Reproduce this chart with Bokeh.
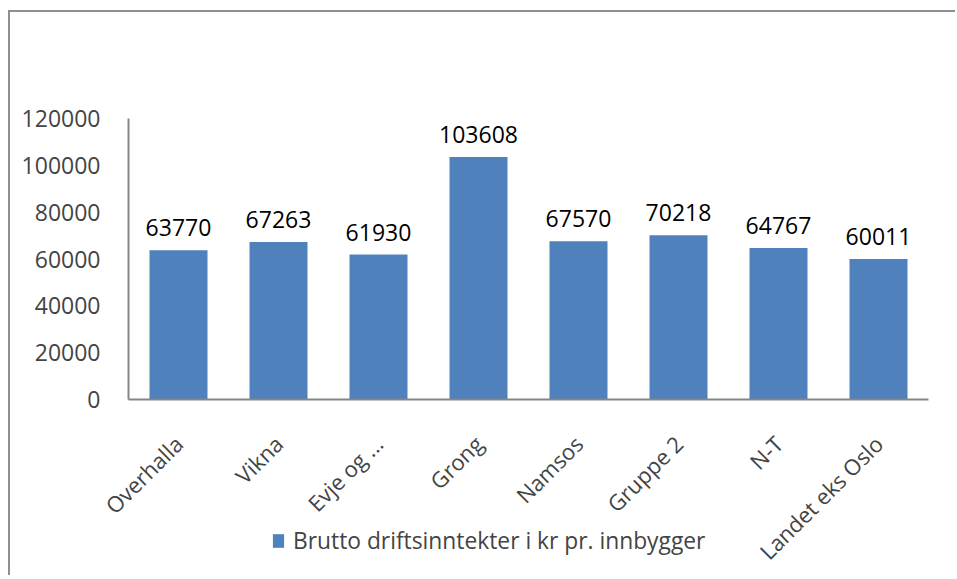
from math import pi
from bokeh.plotting import figure
from bokeh.models import ColumnDataSource, Range1d, FixedTicker, Legend, LegendItem, LabelSet
from bokeh.core.properties import value
from bokeh.embed import file_html
from bokeh.resources import INLINE

categories = ["Overhalla", "Vikna", "Evje og ...", "Grong", "Namsos", "Gruppe 2", "N-T", "Landet eks Oslo"]
values = [63770, 67263, 61930, 103608, 67570, 70218, 64767, 60011]
y_ticks = [0, 20000, 40000, 60000, 80000, 100000, 120000]
series_name = "Brutto driftsinntekter i kr pr. innbygger"

FONT = "Open Sans"
BLUE = "#4F81BD"
GRAY = "#868686"

positions = list(range(len(categories)))
src = ColumnDataSource(dict(x=positions, val=values, lab=[str(v) for v in values]))

p = figure(x_range=Range1d(-1.68, 7.79), y_range=Range1d(-76000, 165300),
           width=947, height=565, output_backend="svg", toolbar_location=None,
           min_border_left=0, min_border_right=0, min_border_top=0, min_border_bottom=0,
           styles={"border-left": "2px solid #8f8f8f", "border-top": "2px solid #8f8f8f",
                   "margin-left": "8px", "margin-top": "10px"})
p.outline_line_color = None
p.xgrid.grid_line_color = None
p.ygrid.grid_line_color = None

r = p.vbar(x="x", top="val", width=0.58, source=src, fill_color=BLUE, line_color=None)

labels = LabelSet(x="x", y="val", text="lab", source=src, text_align="center",
                  text_baseline="bottom", y_offset=14, text_font=value(FONT),
                  text_font_size="23px", text_color="#000000")
p.add_layout(labels)

p.yaxis.ticker = FixedTicker(ticks=y_ticks)
p.yaxis.fixed_location = -0.5
p.yaxis.bounds = (0, 120000)
p.yaxis.major_tick_line_color = None
p.yaxis.minor_tick_line_color = None
p.yaxis.axis_line_color = GRAY
p.yaxis.axis_line_width = 2
p.yaxis.major_label_text_font = FONT
p.yaxis.major_label_text_font_size = "23px"
p.yaxis.major_label_standoff = 22
p.yaxis.formatter.use_scientific = False

p.xaxis.ticker = FixedTicker(ticks=positions)
p.xaxis.major_label_overrides = {i: c for i, c in zip(positions, categories)}
p.xaxis.fixed_location = 0
p.xaxis.bounds = (-0.5, len(categories) - 0.5)
p.xaxis.major_tick_line_color = None
p.xaxis.minor_tick_line_color = None
p.xaxis.axis_line_color = GRAY
p.xaxis.axis_line_width = 2
p.xaxis.major_label_text_font = FONT
p.xaxis.major_label_text_font_size = "22px"
p.xaxis.major_label_orientation = pi / 4
p.xaxis.major_label_standoff = 34

legend = Legend(items=[LegendItem(label=series_name, renderers=[r])],
                location=(261, 21), orientation="horizontal",
                label_text_font=FONT, label_text_font_size="22.8px",
                glyph_width=14, glyph_height=17, border_line_color=None,
                background_fill_alpha=0, padding=0, margin=0, label_standoff=8)
p.add_layout(legend, "center")

open("out.html", "w").write(file_html(p, INLINE))
